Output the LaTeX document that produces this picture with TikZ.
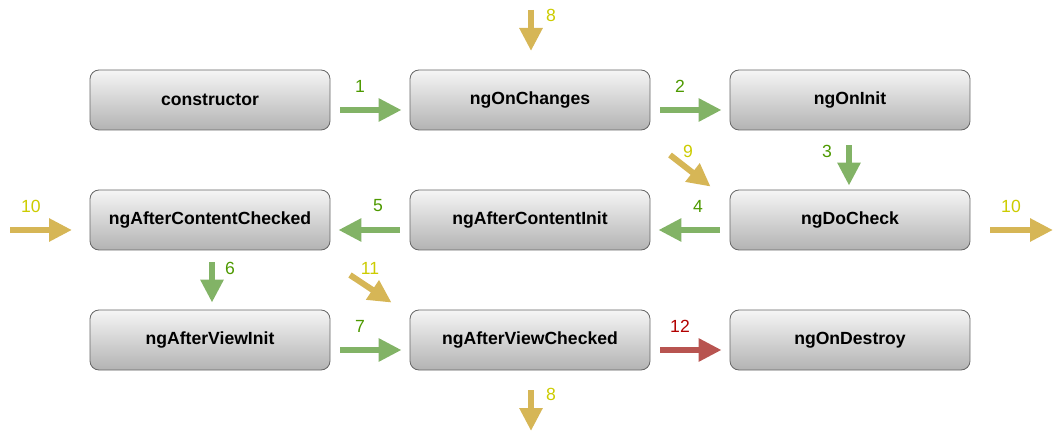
\documentclass[tikz,border=0pt]{standalone}
\usepackage{fontspec}
\setmainfont{Liberation Sans}
\usetikzlibrary{arrows.meta,calc}
\definecolor{boxtop}{HTML}{F5F5F5}
\definecolor{boxbot}{HTML}{B3B3B3}
\definecolor{boxline}{HTML}{666666}
\definecolor{garrow}{HTML}{82B366}
\definecolor{yarrow}{HTML}{D6B656}
\definecolor{rarrow}{HTML}{B85450}
\definecolor{gtext}{HTML}{4D9900}
\definecolor{ytext}{HTML}{CCCC00}
\definecolor{rtext}{HTML}{B20000}
\tikzset{
  lcbox/.style={draw=boxline, line width=0.8pt, rounded corners=9pt, top color=boxtop, bottom color=boxbot,
    minimum width=240pt, minimum height=60pt, inner sep=0pt, font=\fontsize{17.6}{20}\selectfont\bfseries},
  blk/.style={line width=6pt, -{Triangle[length=23pt,width=22pt]}},
  gblk/.style={blk, draw=garrow},
  yblk/.style={blk, draw=yarrow},
  rblk/.style={blk, draw=rarrow},
  num/.style={inner sep=0pt, font=\fontsize{17.6}{20}\selectfont},
}
\begin{document}
\begin{tikzpicture}[x=1pt,y=-1pt]
\useasboundingbox (0,0) rectangle (1062,443);
% boxes
\node[lcbox] (ctor) at (210,100) {constructor};
\node[lcbox] (chg)  at (530,100) {ngOnChanges};
\node[lcbox] (init) at (850,100) {ngOnInit};
\node[lcbox] (acc)  at (210,220) {ngAfterContentChecked};
\node[lcbox] (aci)  at (530,220) {ngAfterContentInit};
\node[lcbox] (dchk) at (850,220) {ngDoCheck};
\node[lcbox] (avi)  at (210,340) {ngAfterViewInit};
\node[lcbox] (avc)  at (530,340) {ngAfterViewChecked};
\node[lcbox] (dest) at (850,340) {ngOnDestroy};
% free ends
\coordinate (t8a) at (531,10);
\coordinate (t8b) at (531,51);
\coordinate (b8a) at (531,390);
\coordinate (b8b) at (531,431);
\coordinate (l10a) at (10,230);
\coordinate (l10b) at (72,230);
\coordinate (r10a) at (990,230);
\coordinate (r10b) at (1053,230);
\coordinate (a9) at (670,155);
\coordinate (a11) at (350,275);
% green connectors
\draw[gblk] ($(ctor.east)+(10,10)$) -- ($(chg.west)+(-8,10)$);
\draw[gblk] ($(chg.east)+(10,10)$) -- ($(init.west)+(-8,10)$);
\draw[gblk] ($(init.south)+(-1,15)$) -- ($(dchk.north)+(-1,-4)$);
\draw[gblk] ($(dchk.west)+(-10,10)$) -- ($(aci.east)+(8,10)$);
\draw[gblk] ($(aci.west)+(-10,10)$) -- ($(acc.east)+(8,10)$);
\draw[gblk] ($(acc.south)+(2,12)$) -- ($(avi.north)+(2,-7)$);
\draw[gblk] ($(avi.east)+(10,10)$) -- ($(avc.west)+(-8,10)$);
\draw[rblk] ($(avc.east)+(10,10)$) -- ($(dest.west)+(-8,10)$);
% yellow
\draw[yblk] (t8a) -- (t8b);
\draw[yblk] (b8a) -- (b8b);
\draw[yblk] (l10a) -- (l10b);
\draw[yblk] (r10a) -- (r10b);
\draw[yblk] (a9) -- ($(dchk.north west)+(-19,-3)$);
\draw[yblk] (a11) -- ($(avc.north west)+(-18,-7)$);
% labels
\node[num, text=gtext] (n1) at (360,86) {1};
\node[num, text=gtext] (n2) at (680,86) {2};
\node[num, text=gtext] (n3) at (827,151) {3};
\node[num, text=gtext] (n4) at (698,206) {4};
\node[num, text=gtext] (n5) at (378,206) {5};
\node[num, text=gtext] (n6) at (230,268) {6};
\node[num, text=gtext] (n7) at (360,326) {7};
\node[num, text=ytext] (n8a) at (551,15) {8};
\node[num, text=ytext] (n8b) at (551,394) {8};
\node[num, text=ytext] (n9) at (688,151) {9};
\node[num, text=ytext] (n10a) at (31,206) {10};
\node[num, text=ytext] (n10b) at (1011,206) {10};
\node[num, text=ytext] (n11) at (370,268) {11};
\node[num, text=rtext] (n12) at (680,326) {12};
\end{tikzpicture}
\end{document}
